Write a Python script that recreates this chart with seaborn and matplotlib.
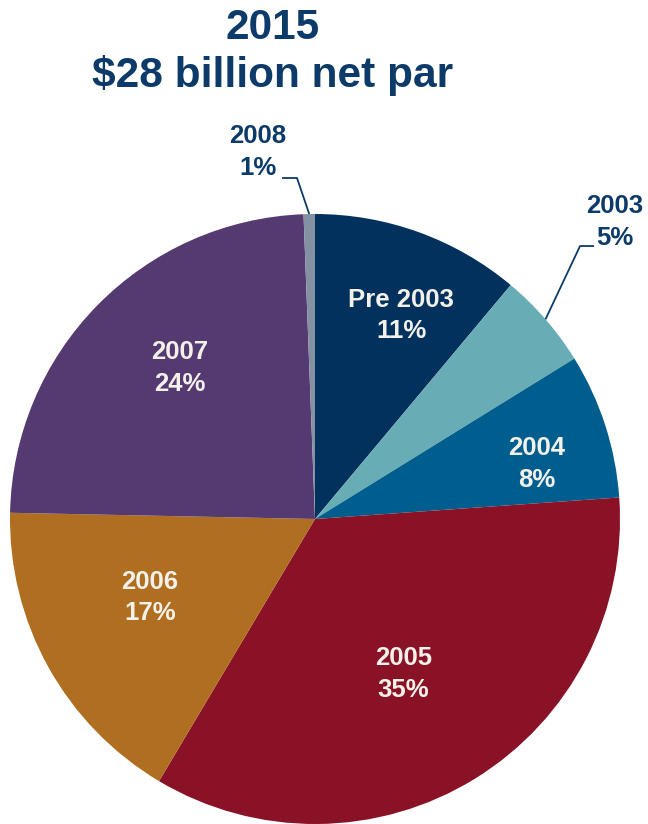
import numpy as np
import seaborn as sns
import matplotlib.pyplot as plt

# vintage share of net par
vintages = ["Pre 2003", "2003", "2004", "2005", "2006", "2007", "2008"]
shares = [11.1, 5.1, 7.7, 34.7, 16.8, 24.1, 0.6]
pct_labels = ["11%", "5%", "8%", "35%", "17%", "24%", "1%"]
colors = ["#01315C", "#68ADB6", "#005E8E", "#8A1226", "#B06E21", "#553A72", "#8391A2"]

title_color = "#0D3B69"
inner_color = "#F3F1EA"

sns.set_theme(style="white")
plt.rcParams['font.family'] = ['Liberation Sans', 'DejaVu Sans']

fig = plt.figure(figsize=(6.48, 8.24), dpi=100)
ax = fig.add_axes([10 / 648, 0, 610 / 648, 610 / 824])

wedges, _ = ax.pie(shares, colors=colors, startangle=90, counterclock=False,
                   radius=1.0, wedgeprops=dict(linewidth=0))
ax.set_xlim(-1, 1)
ax.set_ylim(-1, 1)
ax.axis('off')

# label placement: (radius, angle nudge in degrees) for inside labels
inside = {"Pre 2003": (0.725, -3), "2004": (0.75, -4), "2005": (0.585, -2),
          "2006": (0.60, -3.6), "2007": (0.665, -3.6)}

for w, name, pct in zip(wedges, vintages, pct_labels):
    mid = np.deg2rad((w.theta1 + w.theta2) / 2)
    if name in inside:
        r, nudge = inside[name]
        a = mid + np.deg2rad(nudge)
        ax.text(r * np.cos(a), r * np.sin(a), f"{name}\n{pct}", ha='center', va='center',
                fontsize=18.5, fontweight='bold', color=inner_color, linespacing=1.4)

# outside labels with leader lines
outside = {"2003": ((0.984, 0.974), (0.915, 0.869)),
           "2008": ((-0.187, 1.203), (-0.108, -0.059))}
for w, name, pct in zip(wedges, vintages, pct_labels):
    if name not in outside:
        continue
    (tx, ty), (x0, x1) = outside[name]
    mid = np.deg2rad((w.theta1 + w.theta2) / 2)
    ex, ey = np.cos(mid), np.sin(mid)
    if name == "2003":
        ly = 0.895
        ax.plot([x0, 0.869, ex], [ly, ly, ey], color=title_color, lw=1.3,
                clip_on=False, solid_capstyle='butt')
    else:
        ly = 1.118
        ax.plot([x0, x1, ex], [ly, ly, ey], color=title_color, lw=1.3,
                clip_on=False, solid_capstyle='butt')
    ax.text(tx, ty, f"{name}\n{pct}", ha='center', va='center', fontsize=18.5,
            fontweight='bold', color=title_color, linespacing=1.4, clip_on=False)

fig.text(273 / 648, 1 - 28 / 824, "2015", ha='center', va='center',
         fontsize=30.5, fontweight='bold', color=title_color)
fig.text(273 / 648, 1 - 75 / 824, "$28 billion net par", ha='center', va='center',
         fontsize=30.5, fontweight='bold', color=title_color)

fig.savefig("out.png", dpi=100, facecolor='white')
